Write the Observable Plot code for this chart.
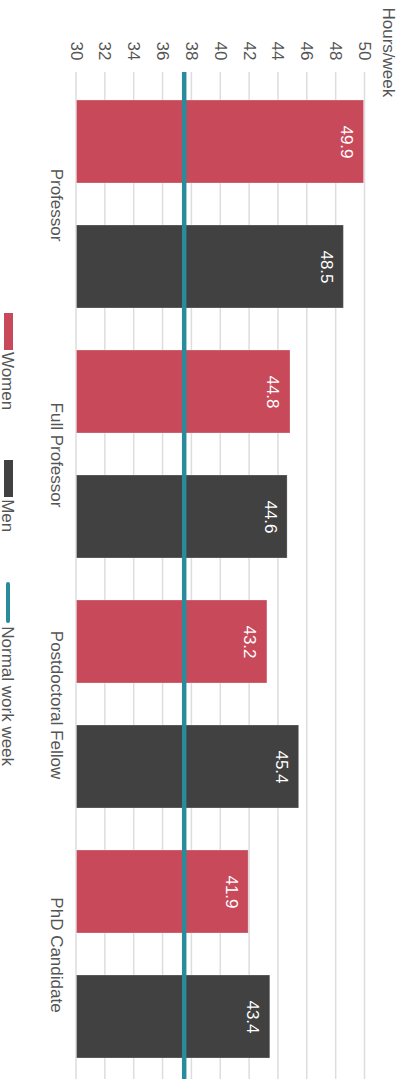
<!DOCTYPE html>
<html>
<head>
<meta charset="utf-8">
<script src="https://cdn.jsdelivr.net/npm/d3@7"></script>
<script src="https://cdn.jsdelivr.net/npm/@observablehq/plot@0.6"></script>
<style>
  html, body { margin: 0; padding: 0; background: #fff; overflow: hidden; }
  #wrap {
    position: absolute; left: 0; top: 0;
    width: 1079px; height: 402px;
    transform-origin: 0 0;
    transform: translate(402px, 0) rotate(90deg);
    font-family: Arial, "Liberation Sans", sans-serif;
    background: #fff;
  }
  #chart svg { display: block; }
  #legend {
    position: absolute; left: 0; top: 386px; width: 1079px; height: 18px;
    display: flex; justify-content: center; gap: 50px;
    font-size: 17px; line-height: 18px; color: #555;
  }
  .item { display: flex; align-items: flex-start; }
  .sw { width: 37px; height: 9px; margin-top: 3px; margin-right: 2px; }
  .ln { width: 41px; height: 3.5px; margin-top: 6px; margin-right: 3px; border-radius: 2px; }
</style>
</head>
<body>
<div id="wrap">
  <div id="chart"></div>
  <div id="legend"></div>
</div>
<script>
const categories = ["Professor", "Full Professor", "Postdoctoral Fellow", "PhD Candidate"];
const genders = ["Women", "Men"];
const women = [49.9, 44.8, 43.2, 41.9];
const men = [48.5, 44.6, 45.4, 43.4];
const normalWeek = 37.5;
const yTicks = [30, 32, 34, 36, 38, 40, 42, 44, 46, 48, 50];
const colors = {Women: "#c84a5a", Men: "#414141"};
const lineColor = "#2a8b9b";

const data = [];
categories.forEach((c, i) => {
  data.push({category: c, gender: "Women", hours: women[i], key: c + "|Women"});
  data.push({category: c, gender: "Men", hours: men[i], key: c + "|Men"});
});
const keys = data.map(d => d.key);

const plot = Plot.plot({
  width: 1079,
  height: 385,
  marginLeft: 72,
  marginRight: 0,
  marginTop: 37,
  marginBottom: 59.5,
  style: {fontFamily: "Arial, 'Liberation Sans', sans-serif", fontSize: "17px", color: "#555", background: "#fff"},
  x: {domain: keys, range: [72, 1086.8], paddingInner: 0.332, paddingOuter: 0.2, axis: null},
  y: {domain: [yTicks[0], yTicks[yTicks.length - 1]], axis: null},
  marks: [
    Plot.gridY(yTicks, {stroke: "#ddd", strokeOpacity: 1, strokeWidth: 1.5}),
    Plot.barY(data, {
      x: "key", y1: yTicks[0], y2: "hours",
      fill: d => colors[d.gender],
      stroke: "#fff", strokeOpacity: 0.25, strokeWidth: 1
    }),
    Plot.ruleY([normalWeek], {stroke: lineColor, strokeWidth: 4.5}),
    Plot.text(data, {
      x: "key", y: "hours", text: d => d.hours.toFixed(1),
      lineAnchor: "top", dy: 10, fill: "#fff", fontSize: 17
    }),
    Plot.axisY(yTicks, {tickSize: 0, tickPadding: 12, fontSize: 17, fill: "#555", label: null}),
    Plot.text(categories, {
      x: d => d + "|Women", frameAnchor: "bottom", lineAnchor: "top",
      dx: 63, dy: 13, fill: "#555", fontSize: 17
    }),
    Plot.text(["Hours/week"], {
      frameAnchor: "top-left", textAnchor: "start", lineAnchor: "top",
      dx: -65, dy: -31, fill: "#555", fontSize: 17
    })
  ]
});
document.getElementById("chart").appendChild(plot);

const legend = document.getElementById("legend");
const items = [
  {label: "Women", color: colors.Women, cls: "sw"},
  {label: "Men", color: colors.Men, cls: "sw"},
  {label: "Normal work week", color: lineColor, cls: "ln"}
];
items.forEach(it => {
  const div = document.createElement("div");
  div.className = "item";
  const s = document.createElement("span");
  s.className = it.cls;
  s.style.background = it.color;
  const t = document.createElement("span");
  t.textContent = it.label;
  div.appendChild(s);
  div.appendChild(t);
  legend.appendChild(div);
});
</script>
</body>
</html>
